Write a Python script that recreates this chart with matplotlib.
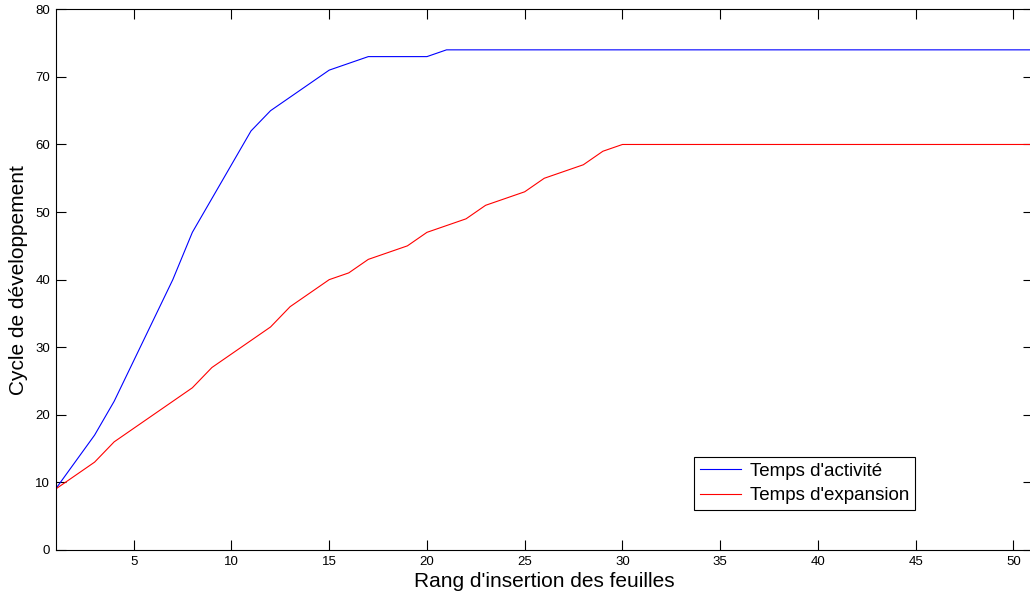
import numpy as np
import matplotlib
matplotlib.use("Agg")
import matplotlib.pyplot as plt

plt.rcParams['font.family'] = ['Liberation Sans', 'DejaVu Sans']

# Rang d'insertion des feuilles
rang = np.arange(1, 52)

# Temps d'activité (courbe bleue)
activite = [9, 13, 17, 22, 28, 34, 40, 47, 52, 57,
            62, 65, 67, 69, 71, 72, 73, 73, 73, 73] + [74] * 31

# Temps d'expansion (courbe rouge)
expansion = [9, 11, 13, 16, 18, 20, 22, 24, 27, 29,
             31, 33, 36, 38, 40, 41, 43, 44, 45, 47,
             48, 49, 51, 52, 53, 55, 56, 57, 59, 60] + [60] * 21

fig = plt.figure(figsize=(10.30, 6.01), dpi=100)
ax = fig.add_axes([55.5 / 1030, 1 - 550 / 601, (1033 - 55.5) / 1030, (550 - 9.3) / 601])

ax.plot(rang, activite, color='#0000ff', lw=0.8, label="Temps d'activité")
ax.plot(rang, expansion, color='#ff0000', lw=0.8, label="Temps d'expansion")

ax.set_xlim(1, 51)
ax.set_ylim(0, 80)
ax.set_xticks(range(5, 51, 5))
ax.set_yticks(range(0, 81, 10))
ax.tick_params(direction='in', top=True, right=True, labelsize=9.5, length=7, width=0.8, pad=4)
for s in ax.spines.values():
    s.set_linewidth(0.8)

ax.set_xlabel("Rang d'insertion des feuilles", fontsize=15, labelpad=3)
ax.set_ylabel("Cycle de développement", fontsize=15, labelpad=5)

leg = ax.legend(loc='upper left', bbox_to_anchor=(694 / 1030, 1 - 457 / 601),
                bbox_transform=fig.transFigure, fontsize=13.5, fancybox=False,
                framealpha=1, edgecolor='black', handlelength=2.2, handletextpad=0.5,
                borderpad=0.3, labelspacing=0.4, borderaxespad=0)
leg.get_frame().set_linewidth(0.8)

fig.savefig('out.png', dpi=100)
